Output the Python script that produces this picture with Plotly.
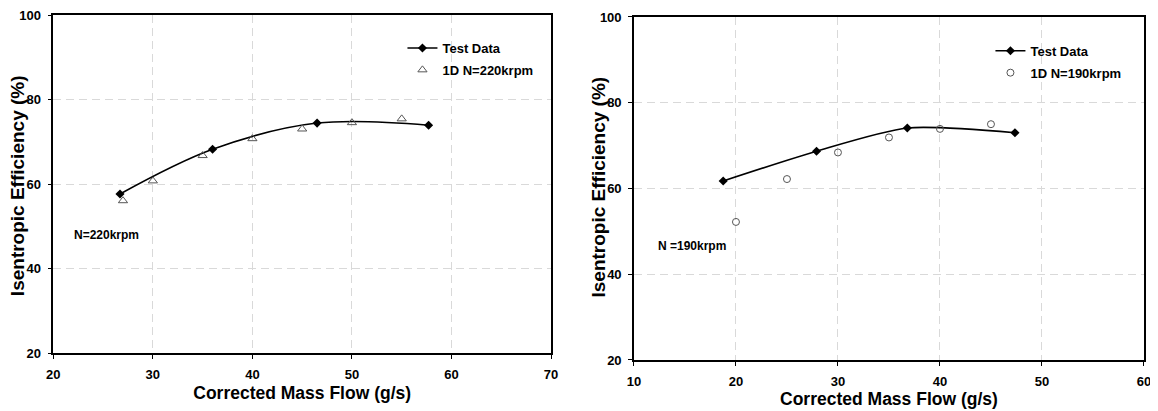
import plotly.graph_objects as go

# Left panel: N = 220 krpm
test220_x = [26.7, 36.0, 46.5, 57.7]
test220_y = [57.7, 68.3, 74.5, 74.0]
model220_x = [27, 30, 35, 40, 45, 50, 55]
model220_y = [56.1, 60.8, 66.8, 70.8, 73.1, 74.6, 75.5]

# Right panel: N = 190 krpm
test190_x = [18.75, 27.9, 36.8, 47.35]
test190_y = [61.75, 68.7, 74.1, 73.0]
model190_x = [20, 25, 30, 35, 40, 45]
model190_y = [52.2, 62.2, 68.4, 71.9, 73.9, 75.0]

FONT = "Liberation Sans, Arial, sans-serif"
GRID = "#d9d9d9"
MK = "#555555"
Y_TITLE = "<b>Isentropic Efficiency (%)</b>"

fig = go.Figure()

fig.add_trace(go.Scatter(
    x=test220_x, y=test220_y, mode="lines+markers", name="<b>Test Data</b>",
    line=dict(color="black", width=1.6, shape="spline", smoothing=1.0),
    marker=dict(symbol="diamond", size=7, color="black"),
    xaxis="x", yaxis="y", legend="legend", legendgroup="a"))
fig.add_trace(go.Scatter(
    x=model220_x, y=model220_y, mode="markers", name="<b>1D N=220krpm</b>",
    marker=dict(symbol="triangle-up-open", size=8, color=MK, line=dict(width=1)),
    xaxis="x", yaxis="y", legend="legend", legendgroup="b"))

fig.add_trace(go.Scatter(
    x=test190_x, y=test190_y, mode="lines+markers", name="<b>Test Data</b>",
    line=dict(color="black", width=1.6, shape="spline", smoothing=0.7),
    marker=dict(symbol="diamond", size=7, color="black"),
    xaxis="x2", yaxis="y2", legend="legend2", legendgroup="c"))
fig.add_trace(go.Scatter(
    x=model190_x, y=model190_y, mode="markers", name="<b>1D N=190krpm</b>",
    marker=dict(symbol="circle-open", size=7, color=MK, line=dict(width=1)),
    xaxis="x2", yaxis="y2", legend="legend2", legendgroup="d"))

def xax(domain, rng, anchor, standoff):
    return dict(domain=domain, range=rng, anchor=anchor, dtick=10, automargin=False,
                showline=True, linecolor="black", linewidth=1.5, mirror=True,
                ticks="outside", ticklen=4, tickcolor="black",
                ticklabelstandoff=5,
                showgrid=True, gridcolor=GRID, griddash="8px,5px", gridwidth=1,
                zeroline=False,
                tickfont=dict(family=FONT, size=13, color="black", weight="bold"),
                title=dict(text="<b>Corrected Mass Flow (g/s)</b>", standoff=standoff,
                           font=dict(family=FONT, size=17.5, color="black")))

def yax(domain, anchor):
    return dict(domain=domain, range=[20, 100], anchor=anchor, dtick=20, automargin=False,
                showline=True, linecolor="black", linewidth=1.5, mirror=True,
                ticks="outside", ticklen=4, tickcolor="black",
                ticklabelstandoff=4,
                showgrid=True, gridcolor=GRID, griddash="8px,5px", gridwidth=1,
                zeroline=False,
                tickfont=dict(family=FONT, size=13, color="black", weight="bold"))

legend_common = dict(bgcolor="rgba(0,0,0,0)", borderwidth=0,
                     font=dict(family=FONT, size=13, color="black"),
                     xanchor="left", yanchor="top", itemwidth=30, tracegroupgap=2)

fig.update_layout(
    width=1150, height=403,
    margin=dict(l=0, r=0, t=0, b=0, autoexpand=False),
    paper_bgcolor="white", plot_bgcolor="white",
    xaxis=xax([0.0394, 0.4722], [20, 70], "y", 5),
    yaxis=yax([0.1439, 0.9814], "x"),
    xaxis2=xax([0.5443, 0.9878], [10, 60], "y2", 3),
    yaxis2=yax([0.1266, 0.9777], "x2"),
    legend=dict(x=0.343, y=0.938, **legend_common),
    legend2=dict(x=0.8543, y=0.931, **legend_common),
    annotations=[
        dict(text=Y_TITLE, x=9 / 1150, y=0.558, xref="paper", yref="paper",
             xanchor="center", yanchor="middle", textangle=-90, showarrow=False,
             font=dict(family=FONT, size=19, color="black")),
        dict(text=Y_TITLE, x=590 / 1150, y=0.5546, xref="paper", yref="paper",
             xanchor="center", yanchor="middle", textangle=-90, showarrow=False,
             font=dict(family=FONT, size=19, color="black")),
        dict(text="<b>N=220krpm</b>", x=21.9, y=48, xref="x", yref="y",
             xanchor="left", yanchor="middle", showarrow=False,
             font=dict(family=FONT, size=12, color="black")),
        dict(text="<b>N =190krpm</b>", x=12.2, y=46.5, xref="x2", yref="y2",
             xanchor="left", yanchor="middle", showarrow=False,
             font=dict(family=FONT, size=12, color="black")),
    ],
)

fig.write_html("out.html")
